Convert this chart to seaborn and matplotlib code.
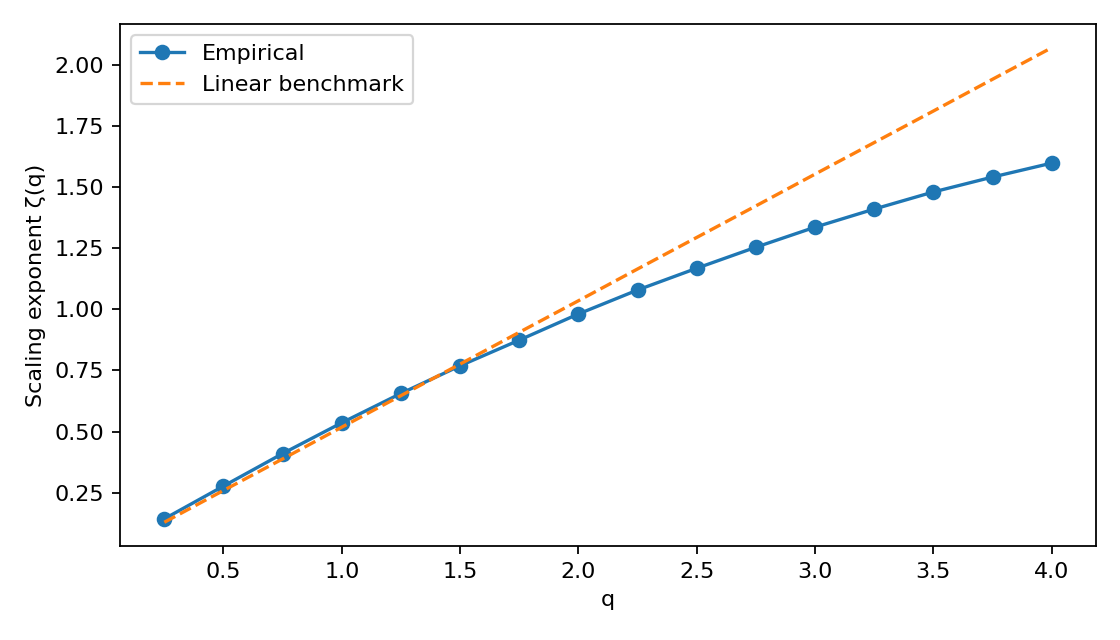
import matplotlib
matplotlib.use("Agg")
import matplotlib.pyplot as plt
import seaborn as sns
import pandas as pd

q = [0.25, 0.5, 0.75, 1.0, 1.25, 1.5, 1.75, 2.0, 2.25, 2.5, 2.75, 3.0, 3.25, 3.5, 3.75, 4.0]
zeta_empirical = [0.143, 0.277, 0.410, 0.536, 0.656, 0.769, 0.874, 0.981, 1.079, 1.168,
                  1.254, 1.336, 1.410, 1.480, 1.541, 1.598]
zeta_linear = [0.129, 0.259, 0.388, 0.518, 0.647, 0.776, 0.906, 1.035, 1.165, 1.294,
               1.423, 1.553, 1.682, 1.811, 1.941, 2.070]

df = pd.DataFrame({"q": q, "emp": zeta_empirical, "lin": zeta_linear})

plt.style.use("default")
plt.rcParams["font.family"] = ["DejaVu Sans"]
fig, ax = plt.subplots(figsize=(7, 4), dpi=160)
sns.lineplot(data=df, x="q", y="emp", marker="o", markersize=6, markeredgewidth=1,
             markeredgecolor="#1f77b4", color="#1f77b4", label="Empirical", ax=ax)
sns.lineplot(data=df, x="q", y="lin", linestyle="--", color="#ff7f0e",
             label="Linear benchmark", ax=ax)
ax.set_xlabel("q")
ax.set_ylabel("Scaling exponent ζ(q)")
ax.legend(loc="upper left")
fig.subplots_adjust(left=0.1071, right=0.9786, top=0.9625, bottom=0.1469)
fig.savefig("out.png", dpi=160)
